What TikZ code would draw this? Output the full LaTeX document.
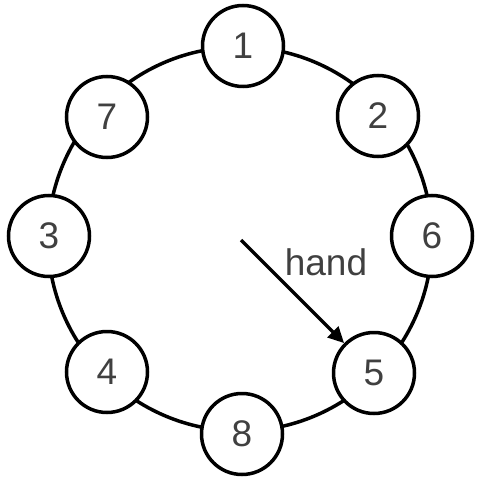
\documentclass[tikz,border=0pt]{standalone}
\usepackage{fontspec}
\setmainfont{Liberation Sans}
\usetikzlibrary{arrows.meta}
\definecolor{txt}{HTML}{404040}
\tikzset{
  slot/.style={circle, draw=black, line width=3.5pt, fill=white, minimum size=81pt, inner sep=0pt, font=\fontsize{37}{40}\selectfont, text=txt},
  ring/.style={draw=black, line width=3.5pt},
  handarrow/.style={draw=black, line width=3.5pt, -{Triangle[length=16pt,width=15pt]}}
}
\begin{document}
\begin{tikzpicture}[x=1pt,y=-1pt]
\useasboundingbox (0,0) rectangle (477,478);
\coordinate (c) at (240,239);
\draw[ring] (c) circle[radius=192];
\node[slot] (n1) at (243,46) {1};
\node[slot] (n2) at (378,116) {2};
\node[slot] (n6) at (432,236) {6};
\node[slot] (n5) at (374,373) {5};
\node[slot] (n8) at (242,434) {8};
\node[slot] (n4) at (107,372) {4};
\node[slot] (n3) at (49,236) {3};
\node[slot] (n7) at (107,117) {7};
\coordinate (hs) at (241,240);
\draw[handarrow] (hs) -- (n5);
\node[font=\fontsize{37}{40}\selectfont, text=txt] (hl) at (326,262) {hand};
\end{tikzpicture}
\end{document}
